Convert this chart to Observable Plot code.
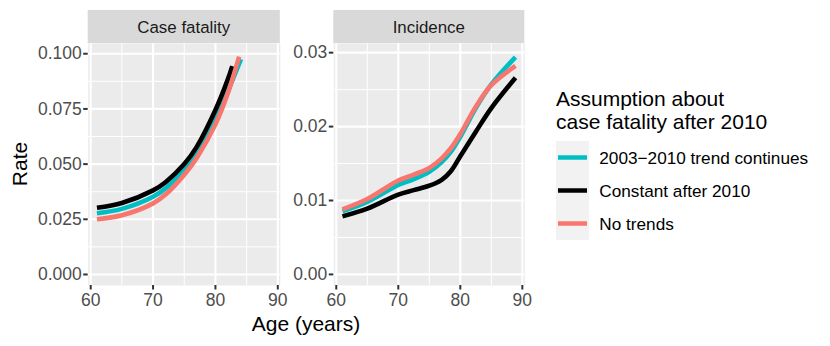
<!DOCTYPE html>
<html><head><meta charset="utf-8">
<script src="https://cdn.jsdelivr.net/npm/d3@7"></script>
<script src="https://cdn.jsdelivr.net/npm/@observablehq/plot@0.6"></script>
<style>
body{margin:0;background:#fff;}
#chart{position:relative;width:830px;height:346px;overflow:hidden;background:#fff;}
#chart svg{position:absolute;left:0;top:0;}
</style></head><body><div id="chart"></div>
<script>
const FONT = '"Liberation Sans", Arial, Helvetica, sans-serif';
const seriesNames = ["2003\u22122010 trend continues", "Constant after 2010", "No trends"];
const seriesColors = ["#00BFC4", "#000000", "#F8766D"];
const panelNames = ["Case fatality", "Incidence"];
const xTickLabels = [60, 70, 80, 90];
const cfTickLabels = [0, 0.025, 0.05, 0.075, 0.1];
const incTickLabels = [0, 0.01, 0.02, 0.03];

// Case fatality
const cfAgesTrend = [61, 65, 70, 72, 75, 77, 80, 82, 84.1];
const cfTrend = [0.0277, 0.0297, 0.0352, 0.0390, 0.0474, 0.0550, 0.0700, 0.0830, 0.0975];
const cfAgesConst = [61, 65, 70, 72, 75, 77, 80, 82, 82.7];
const cfConst = [0.0302, 0.0324, 0.0381, 0.0418, 0.0500, 0.0578, 0.0745, 0.0885, 0.0944];
const cfAgesNone = [61, 65, 70, 72, 75, 77, 80, 82, 83.8];
const cfNone = [0.0250, 0.0268, 0.0322, 0.0362, 0.0452, 0.0528, 0.0680, 0.0822, 0.0987];

// Incidence
const incAges = [61, 65, 70, 72.5, 75, 77, 78.5, 80, 82.5, 85, 88.9];
const incTrend = [0.00855, 0.0098, 0.0121, 0.0129, 0.0139, 0.0152, 0.0166, 0.0186, 0.0225, 0.0257, 0.0294];
const incConst = [0.00785, 0.0089, 0.0108, 0.0114, 0.0120, 0.0128, 0.0140, 0.0160, 0.0193, 0.0225, 0.0266];
const incNone = [0.0088, 0.0102, 0.0127, 0.0135, 0.0144, 0.0157, 0.0171, 0.0190, 0.0227, 0.0256, 0.0282];

function rows(ages, vals, s) { return ages.map((a, i) => ({age: a, rate: vals[i], series: seriesNames[s]})); }
const cfData = [...rows(cfAgesTrend, cfTrend, 0), ...rows(cfAgesConst, cfConst, 1), ...rows(cfAgesNone, cfNone, 2)];
const incData = [...rows(incAges, incTrend, 0), ...rows(incAges, incConst, 1), ...rows(incAges, incNone, 2)];

const W = 830, H = 346;
const panelTop = 43.3, panelBottom = 285;
const panels = [
  {name: panelNames[0], left: 87.7, right: 279.8, data: cfData, yDomain: [-0.005, 0.1045], yTicks: cfTickLabels, yMinor: [0.0125, 0.0375, 0.0625, 0.0875], fmt: d3.format(".3f")},
  {name: panelNames[1], left: 333.3, right: 524.3, data: incData, yDomain: [-0.0015, 0.0312], yTicks: incTickLabels, yMinor: [0.005, 0.015, 0.025], fmt: d3.format(".2f")}
];

const chart = document.getElementById("chart");

// overlay with strips, titles, legend
const ov = d3.create("svg").attr("width", W).attr("height", H).style("font-family", FONT);
for (const p of panels) {
  ov.append("rect").attr("x", p.left).attr("y", 10).attr("width", p.right - p.left).attr("height", panelTop - 10).attr("fill", "#D9D9D9");
  ov.append("text").attr("x", (p.left + p.right) / 2).attr("y", 33).attr("text-anchor", "middle")
    .attr("font-size", 16.9).attr("fill", "#1A1A1A").text(p.name);
}
ov.append("text").attr("transform", "translate(26.5,164) rotate(-90)").attr("text-anchor", "middle")
  .attr("font-size", 21).attr("fill", "#000").text("Rate");
ov.append("text").attr("x", 306).attr("y", 331).attr("text-anchor", "middle")
  .attr("font-size", 21).attr("fill", "#000").text("Age (years)");
ov.append("text").attr("x", 556).attr("y", 106).attr("font-size", 21).attr("fill", "#000").text("Assumption about");
ov.append("text").attr("x", 556).attr("y", 129).attr("font-size", 21).attr("fill", "#000").text("case fatality after 2010");
ov.append("rect").attr("x", 556).attr("y", 141).attr("width", 33).attr("height", 99).attr("fill", "#F2F2F2");
seriesNames.forEach((s, i) => {
  const cy = 157.5 + i * 33;
  ov.append("line").attr("x1", 558).attr("x2", 587).attr("y1", cy).attr("y2", cy)
    .attr("stroke", seriesColors[i]).attr("stroke-width", 4.5);
  ov.append("text").attr("x", 599.3).attr("y", cy + 6).attr("font-size", 17.2).attr("fill", "#000").text(s);
});
chart.appendChild(ov.node());

for (const p of panels) {
  const svg = Plot.plot({
    width: W, height: H,
    marginLeft: p.left, marginRight: W - p.right, marginTop: panelTop, marginBottom: H - panelBottom,
    style: {background: "transparent", fontFamily: FONT, fontSize: "17.5px", overflow: "visible"},
    x: {domain: [59.6, 90.4], axis: null},
    y: {domain: p.yDomain, axis: null},
    color: {domain: seriesNames, range: seriesColors},
    marks: [
      Plot.frame({fill: "#EBEBEB", stroke: "none"}),
      Plot.gridX([65, 75, 85], {stroke: "#fff", strokeOpacity: 1, strokeWidth: 1}),
      Plot.gridY(p.yMinor, {stroke: "#fff", strokeOpacity: 1, strokeWidth: 1}),
      Plot.gridX(xTickLabels, {stroke: "#fff", strokeOpacity: 1, strokeWidth: 2.1}),
      Plot.gridY(p.yTicks, {stroke: "#fff", strokeOpacity: 1, strokeWidth: 2.1}),
      Plot.axisX(xTickLabels, {label: null, tickSize: 4.5, tickPadding: 4, stroke: "#333333", fill: "#4D4D4D", strokeWidth: 2, fontSize: 17.5, tickFormat: d => String(d)}),
      Plot.axisY(p.yTicks, {label: null, tickSize: 4.5, tickPadding: 2, stroke: "#333333", fill: "#4D4D4D", strokeWidth: 2, fontSize: 17.5, tickFormat: p.fmt}),
      Plot.line(p.data, {x: "age", y: "rate", stroke: "series", z: "series", strokeWidth: 4.6, curve: "catmull-rom", strokeLinecap: "butt"})
    ]
  });
  chart.appendChild(svg);
}
</script></body></html>
